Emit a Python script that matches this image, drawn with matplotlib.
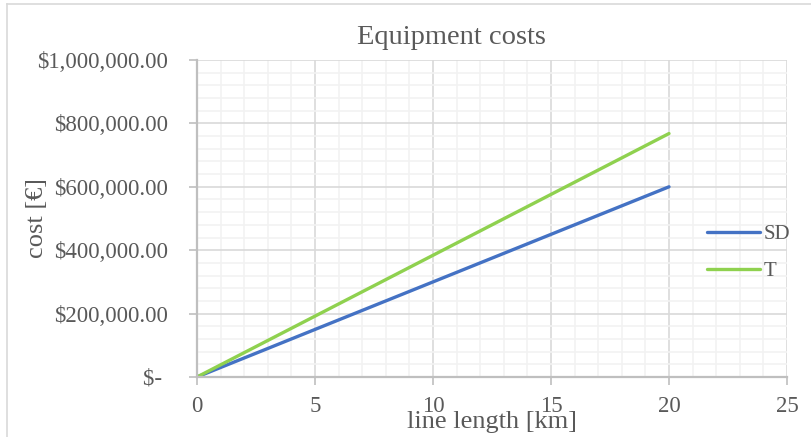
import matplotlib.pyplot as plt
from matplotlib.ticker import MultipleLocator, FuncFormatter
from matplotlib.lines import Line2D

# line length [km] and equipment cost for each option
length_km = [0, 5, 10, 15, 20]
cost_sd = [0, 150000, 300000, 450000, 600000]
cost_t = [0, 192000, 384000, 576000, 768000]

plt.rcParams['font.family'] = ['Liberation Serif', 'DejaVu Serif']

txt = '#595959'
fig = plt.figure(figsize=(8.12, 4.37), dpi=100)
ax = fig.add_axes([197 / 812, 1 - 377 / 437, 590 / 812, 317 / 437])

ax.plot(length_km, cost_sd, color='#4472C4', lw=2.4, label='SD', solid_capstyle='round')
ax.plot(length_km, cost_t, color='#8FD14F', lw=2.4, label='T', solid_capstyle='round')

ax.set_xlim(0, 25)
ax.set_ylim(0, 1000000)
ax.xaxis.set_major_locator(MultipleLocator(5))
ax.xaxis.set_minor_locator(MultipleLocator(1))
ax.yaxis.set_major_locator(MultipleLocator(200000))
ax.yaxis.set_minor_locator(MultipleLocator(40000))


def money(v, pos):
    if v == 0:
        return '$- '
    return '${:,.2f}'.format(v)


ax.yaxis.set_major_formatter(FuncFormatter(money))

ax.grid(which='major', color='#D9D9D9', lw=1.2)
ax.grid(which='minor', color='#F2F2F2', lw=1.2)
ax.set_axisbelow(True)

for s in ['top', 'right']:
    ax.spines[s].set_visible(False)
for s in ['left', 'bottom']:
    ax.spines[s].set_color('#BFBFBF')
    ax.spines[s].set_linewidth(1.6)

ax.tick_params(which='major', length=6, width=1.2, color='#BFBFBF',
               labelsize=16.5, labelcolor=txt)
ax.tick_params(which='minor', length=0)
ax.tick_params(axis='y', pad=15)
ax.tick_params(axis='x', pad=8)

ax.set_xlabel('line length [km]', fontsize=19, color=txt, va='top')
ax.xaxis.set_label_coords(0.5, -0.107)
ax.set_ylabel('cost [€]', fontsize=19, color=txt)
ax.yaxis.set_label_coords(-0.253, 0.50)

fig.text(451 / 812, 1 - 38 / 437, 'Equipment costs', fontsize=20.5, color=txt,
         ha='center', va='center')

ax.legend(loc='center left', bbox_to_anchor=(0.864, 0.392), frameon=False,
          fontsize=15, labelcolor=txt, handlelength=2.55, handletextpad=0.2,
          labelspacing=0.85, borderaxespad=0, borderpad=0)

# chart border (left and top edges)
fig.add_artist(Line2D([7 / 812, 7 / 812], [0, 1 - 4 / 437], color='#D9D9D9',
                      lw=1.2, transform=fig.transFigure))
fig.add_artist(Line2D([7 / 812, 1], [1 - 4 / 437, 1 - 4 / 437], color='#D9D9D9',
                      lw=1.2, transform=fig.transFigure))

fig.savefig('out.png', dpi=100)
